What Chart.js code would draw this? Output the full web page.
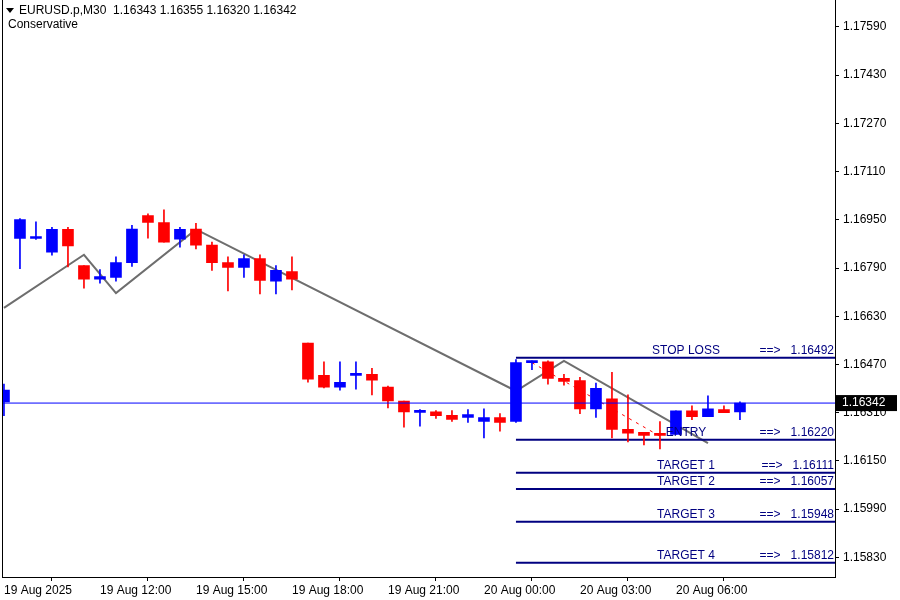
<!DOCTYPE html>
<html>
<head>
<meta charset="utf-8">
<script src="https://cdn.jsdelivr.net/npm/chart.js@4"></script>
<style>
  body { margin: 0; background: #fff; }
  #wrap { width: 900px; height: 600px; }
</style>
</head>
<body>
<div id="wrap"><canvas id="chart" width="900" height="600"></canvas></div>
<script>
// candles, 30 min bars from 19 Aug 2025 09:00
const opens = [1.16346, 1.16888, 1.16888, 1.16843, 1.16918, 1.16798, 1.16753, 1.16759, 1.16808, 1.16964, 1.16941, 1.16886, 1.16919, 1.16866, 1.16808, 1.16792, 1.16821, 1.16746, 1.16778,
  1.16541, 1.16434, 1.16395, 1.16434, 1.16437, 1.16395, 1.16349, 1.16311, 1.16313, 1.16301, 1.16294, 1.16281, 1.16294,
  1.16281, 1.16476, 1.16479, 1.16424, 1.16417, 1.16323, 1.16356, 1.16255, 1.16245, 1.16238, 1.16238, 1.16316, 1.16297, 1.16320, 1.16313]
const closes = [1.16385, 1.16951, 1.16888, 1.16918, 1.16863, 1.16753, 1.16762, 1.16808, 1.16919, 1.16941, 1.16876, 1.16918, 1.16866, 1.16808, 1.16792, 1.16821, 1.16749, 1.16782, 1.16753,
  1.16421, 1.16395, 1.16411, 1.16440, 1.16418, 1.16349, 1.16313, 1.16317, 1.16300, 1.16288, 1.16304, 1.16294, 1.16278,
  1.16476, 1.16479, 1.16424, 1.16414, 1.16323, 1.16391, 1.16255, 1.16242, 1.16235, 1.16235, 1.16316, 1.16297, 1.16323, 1.16310, 1.16342]
const highs = [1.16405, 1.16954, 1.16943, 1.16925, 1.16925, 1.16798, 1.16785, 1.16827, 1.16932, 1.16970, 1.16983, 1.16925, 1.16938, 1.16876, 1.16827, 1.16834, 1.16834, 1.16798, 1.16827,
  1.16541, 1.16479, 1.16479, 1.16479, 1.16457, 1.16398, 1.16349, 1.16320, 1.16317, 1.16317, 1.16320, 1.16323, 1.16307,
  1.16486, 1.16482, 1.16482, 1.16437, 1.16427, 1.16408, 1.16444, 1.16369, 1.16245, 1.16281, 1.16316, 1.16333, 1.16366, 1.16333, 1.16346]
const lows = [1.16300, 1.16788, 1.16885, 1.16833, 1.16794, 1.16723, 1.16740, 1.16746, 1.16795, 1.16889, 1.16876, 1.16859, 1.16853, 1.16782, 1.16714, 1.16759, 1.16704, 1.16704, 1.16717,
  1.16411, 1.16392, 1.16385, 1.16388, 1.16369, 1.16326, 1.16262, 1.16265, 1.16291, 1.16281, 1.16278, 1.16226, 1.16249,
  1.16278, 1.16453, 1.16405, 1.16401, 1.16307, 1.16294, 1.16226, 1.16213, 1.16203, 1.16190, 1.16238, 1.16287, 1.16297, 1.16310, 1.16287]

// zigzag and signal levels
const zigzagIdx = [0, 5, 7, 12, 32, 35, 44]
const zigzagVals = [1.16658, 1.16834, 1.16707, 1.16918, 1.16382, 1.16482, 1.16209]
const trendIdx = [33, 41]
const trendVals = [1.16476, 1.16232]
const levelNames = ['STOP LOSS', 'ENTRY', 'TARGET 1', 'TARGET 2', 'TARGET 3', 'TARGET 4']
const levelVals = [1.16492, 1.16220, 1.16111, 1.16057, 1.15948, 1.15812]
const levelStart = 32
const lastPrice = 1.16342

const yTicks = [1.17590, 1.17430, 1.17270, 1.17110, 1.16950, 1.16790, 1.16630, 1.16470, 1.16310, 1.16150, 1.15990, 1.15830]
const xTickIdx = [0, 6, 12, 18, 24, 30, 36, 42]
const xTickLabels = ['19 Aug 2025', '19 Aug 12:00', '19 Aug 15:00', '19 Aug 18:00', '19 Aug 21:00', '20 Aug 00:00', '20 Aug 03:00', '20 Aug 06:00']

const xMin = -0.06
const xMax = xMin + 832 / 16
const FONT = '"Liberation Sans", Arial, sans-serif'
const colorOf = i => closes[i] >= opens[i] ? '#0000ff' : '#ff0000'

const bodies = opens.map((o, i) => ({ x: i, y: [o, closes[i]] }))
const wicks = lows.map((l, i) => ({ x: i, y: [l, highs[i]] }))
const candleColors = opens.map((o, i) => colorOf(i))

const levelDatasets = levelVals.map(v => ({
  type: 'line',
  data: [{ x: levelStart, y: v }, { x: xMax, y: v }],
  borderColor: '#000080',
  borderWidth: 2,
  pointRadius: 0
}))

const overlay = {
  id: 'overlay',
  afterDraw (chart) {
    const { ctx, chartArea, scales } = chart
    const y = scales.y
    ctx.save()
    ctx.font = '12px ' + FONT
    ctx.fillStyle = '#000080'
    ctx.textBaseline = 'bottom'
    levelVals.forEach((v, i) => {
      const py = y.getPixelForValue(v) - 1
      ctx.textAlign = 'center'
      ctx.fillText(levelNames[i], 686, py)
      ctx.textAlign = 'right'
      ctx.fillText('==>   ' + v.toFixed(5), chartArea.right - 1, py)
    })
    // current price tag
    const py = y.getPixelForValue(lastPrice)
    ctx.fillStyle = '#000'
    ctx.fillRect(chartArea.right + 1, py - 8, 61, 16)
    ctx.fillStyle = '#fff'
    ctx.textAlign = 'left'
    ctx.textBaseline = 'middle'
    ctx.fillText(lastPrice.toFixed(5), chartArea.right + 7, py)
    // header
    ctx.fillStyle = '#000'
    ctx.textBaseline = 'top'
    ctx.beginPath()
    ctx.moveTo(6, 8); ctx.lineTo(14, 8); ctx.lineTo(10, 13); ctx.closePath(); ctx.fill()
    ctx.fillText('EURUSD.p,M30  1.16343 1.16355 1.16320 1.16342', 19, 5)
    ctx.fillText('Conservative', 8, 19)
    // frame
    ctx.strokeStyle = '#000'
    ctx.lineWidth = 1
    ctx.strokeRect(chartArea.left - 0.5, -1, chartArea.right - chartArea.left + 1, chartArea.bottom + 1.5)
    ctx.restore()
  }
}

new Chart(document.getElementById('chart'), {
  type: 'bar',
  data: {
    datasets: [
      { type: 'line', data: [{ x: xMin, y: lastPrice }, { x: xMax, y: lastPrice }], borderColor: '#0000ff', borderWidth: 1, pointRadius: 0 },
      { data: wicks, backgroundColor: candleColors, barThickness: 1, grouped: false, minBarLength: 1 },
      { data: bodies, backgroundColor: candleColors, barThickness: 11, grouped: false, minBarLength: 2 },
      ...levelDatasets,
      { type: 'line', data: trendIdx.map((x, i) => ({ x, y: trendVals[i] })), borderColor: '#ff0000', borderWidth: 1, borderDash: [3, 5], pointRadius: 0 },
      { type: 'line', data: zigzagIdx.map((x, i) => ({ x, y: zigzagVals[i] })), borderColor: '#6e6e6e', borderWidth: 2, pointRadius: 0 }
    ]
  },
  options: {
    responsive: false,
    animation: false,
    devicePixelRatio: 1,
    layout: { padding: { left: 3, top: 0, right: 0, bottom: 0 } },
    plugins: { legend: { display: false }, tooltip: { enabled: false } },
    scales: {
      x: {
        type: 'linear',
        min: xMin,
        max: xMax,
        offset: false,
        afterBuildTicks: s => { s.ticks = xTickIdx.map(v => ({ value: v })) },
        afterFit: s => { s.height = 23 },
        grid: { drawOnChartArea: false, tickLength: 4, color: '#000' },
        border: { display: false },
        ticks: {
          align: 'start',
          maxRotation: 0,
          autoSkip: false,
          color: '#000',
          font: { family: FONT, size: 12 },
          padding: 2,
          callback: (v, i) => xTickLabels[i]
        }
      },
      y: {
        position: 'right',
        min: 1.15765,
        max: 1.17642,
        afterBuildTicks: s => { s.ticks = yTicks.map(v => ({ value: v })) },
        afterFit: s => { s.width = 65 },
        grid: { drawOnChartArea: false, tickLength: 4, color: '#000' },
        border: { display: false },
        ticks: {
          color: '#000',
          font: { family: FONT, size: 12 },
          padding: 4,
          callback: v => v.toFixed(5)
        }
      }
    }
  },
  plugins: [overlay]
})
</script>
</body>
</html>
